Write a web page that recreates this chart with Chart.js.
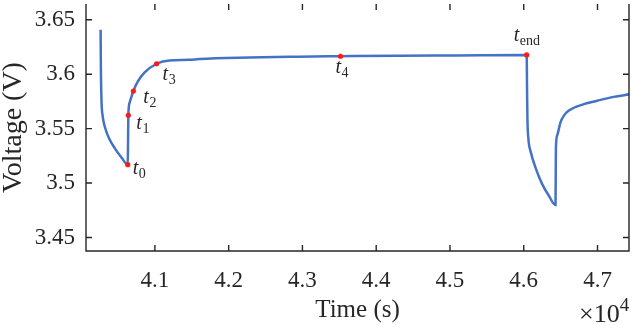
<!DOCTYPE html>
<html>
<head>
<meta charset="utf-8">
<script src="https://cdn.jsdelivr.net/npm/chart.js@4.4.1/dist/chart.umd.min.js"></script>
<style>
html, body { margin: 0; padding: 0; background: #fff; overflow: hidden; }
#c { display: block; }
</style>
</head>
<body>
<canvas id="c" width="633" height="325"></canvas>
<script>
// voltage trace (time in s, voltage in V)
const timeS = [40264, 40268, 40277, 40291, 40322, 40380, 40457, 40547, 40632,
  40636, 40640, 40659, 40708, 40771, 40861, 41023, 41108, 41198, 41468,
  41602, 42276, 42950, 43516, 44298, 45107, 46040,
  46045, 46050, 46063, 46094, 46162, 46252, 46342, 46431,
  46436, 46454, 46499, 46545, 46612, 46814, 46993, 47218, 47430];
const voltageV = [3.6409, 3.6042, 3.5741, 3.5620, 3.5515, 3.5409, 3.5319, 3.5235, 3.5169,
  3.5379, 3.5623, 3.5741, 3.5846, 3.5936, 3.6018, 3.6096, 3.6117, 3.6127, 3.6132,
  3.6140, 3.6154, 3.6161, 3.6165, 3.6170, 3.6173, 3.6177,
  3.5861, 3.5590, 3.5409, 3.5289, 3.5138, 3.4988, 3.4882, 3.4798,
  3.5319, 3.5440, 3.5560, 3.5620, 3.5666, 3.5725, 3.5756, 3.5792, 3.5815];

// marked instants t0..tend
const markerT = [40632, 40640, 40708, 41023, 43516, 46040];
const markerV = [3.5169, 3.5623, 3.5846, 3.6096, 3.6165, 3.6177];
const markerSub = ['0', '1', '2', '3', '4', 'end'];

// axis ticks
const xTicks = [41000, 42000, 43000, 44000, 45000, 46000, 47000];
const yTicks = [3.45, 3.5, 3.55, 3.6, 3.65];

const AXIS = '#262626';
const SERIF = '"Liberation Serif", "Times New Roman", serif';

// MATLAB-like box with inner ticks + the x10^4 multiplier
const frame = {
  id: 'frame',
  afterDraw(chart) {
    const { ctx, chartArea: a, scales: { x, y } } = chart;
    ctx.save();
    ctx.strokeStyle = AXIS;
    ctx.lineWidth = 1.4;
    ctx.beginPath();
    ctx.moveTo(a.left, a.top); ctx.lineTo(a.left, a.bottom);
    ctx.lineTo(a.right, a.bottom); ctx.lineTo(a.right, a.top);
    xTicks.forEach(v => {
      const px = x.getPixelForValue(v);
      ctx.moveTo(px, a.bottom); ctx.lineTo(px, a.bottom - 6);
      ctx.moveTo(px, a.top); ctx.lineTo(px, a.top + 6);
    });
    yTicks.forEach(v => {
      const py = y.getPixelForValue(v);
      ctx.moveTo(a.left, py); ctx.lineTo(a.left + 6, py);
      ctx.moveTo(a.right, py); ctx.lineTo(a.right - 6, py);
    });
    ctx.stroke();

    ctx.fillStyle = AXIS;
    ctx.textAlign = 'left';
    ctx.textBaseline = 'alphabetic';
    ctx.font = '26px ' + SERIF;
    ctx.fillText('\u00d710', 579, 322);
    const w = ctx.measureText('\u00d710').width;
    ctx.font = '19px ' + SERIF;
    ctx.fillText('4', 579 + w, 311);
    ctx.restore();
  }
};

// t_i labels next to the red points
const tLabels = {
  id: 'tLabels',
  afterDatasetsDraw(chart, args, opts) {
    const { ctx } = chart;
    const pts = chart.getDatasetMeta(0).data;
    ctx.save();
    ctx.fillStyle = AXIS;
    ctx.textBaseline = 'alphabetic';
    ctx.textAlign = 'left';
    pts.forEach((p, i) => {
      const [dx, dy] = opts.offsets[i];
      const bx = p.x + dx, by = p.y + dy;
      ctx.font = 'italic 20px ' + SERIF;
      ctx.fillText('t', bx, by);
      const tw = ctx.measureText('t').width;
      ctx.font = '14px ' + SERIF;
      ctx.fillText(markerSub[i], bx + tw + 0.5, by + 4);
    });
    ctx.restore();
  }
};

new Chart(document.getElementById('c'), {
  type: 'line',
  data: {
    datasets: [
      {
        data: markerT.map((t, i) => ({ x: t, y: markerV[i] })),
        showLine: false,
        pointRadius: 2.6,
        pointBackgroundColor: '#ff1a1a',
        pointBorderWidth: 0,
        order: 0
      },
      {
        data: timeS.map((t, i) => ({ x: t, y: voltageV[i] })),
        borderColor: '#4472c4',
        borderWidth: 2.5,
        pointRadius: 0,
        cubicInterpolationMode: 'monotone',
        fill: false,
        order: 1
      }
    ]
  },
  options: {
    responsive: false,
    devicePixelRatio: 1,
    animation: false,
    layout: { padding: { left: 0, right: 1, top: 0, bottom: 0 } },
    plugins: {
      legend: { display: false },
      tooltip: { enabled: false },
      tLabels: {
        offsets: [[5, 9], [8, 14], [10, 12], [6, 16], [-5, 17], [-13, -14]]
      }
    },
    scales: {
      x: {
        type: 'linear',
        min: 40066,
        max: 47427,
        grid: { display: false, drawTicks: false },
        border: { display: false },
        afterBuildTicks: s => { s.ticks = xTicks.map(v => ({ value: v })); },
        afterFit: s => { s.height = 74; s.paddingLeft = 0; s.paddingRight = 0; },
        ticks: {
          padding: 16,
          color: AXIS,
          font: { family: SERIF, size: 23 },
          maxRotation: 0,
          callback: v => (v / 10000).toFixed(1)
        },
        title: {
          display: true,
          text: 'Time (s)',
          color: AXIS,
          padding: { top: 0, bottom: 0 },
          font: { family: SERIF, size: 25, lineHeight: 1.2 }
        }
      },
      y: {
        min: 3.4376,
        max: 3.6645,
        grid: { display: false, drawTicks: false },
        border: { display: false },
        afterBuildTicks: s => { s.ticks = yTicks.map(v => ({ value: v })); },
        afterFit: s => { s.width = 86; s.paddingTop = 0; s.paddingBottom = 0; },
        ticks: {
          padding: 11,
          color: AXIS,
          font: { family: SERIF, size: 23 },
          callback: v => String(+v.toFixed(2))
        },
        title: {
          display: true,
          text: 'Voltage (V)',
          color: AXIS,
          padding: { top: 0, bottom: 0 },
          font: { family: SERIF, size: 28, lineHeight: 0.95 }
        }
      }
    }
  },
  plugins: [frame, tLabels]
});
</script>
</body>
</html>
